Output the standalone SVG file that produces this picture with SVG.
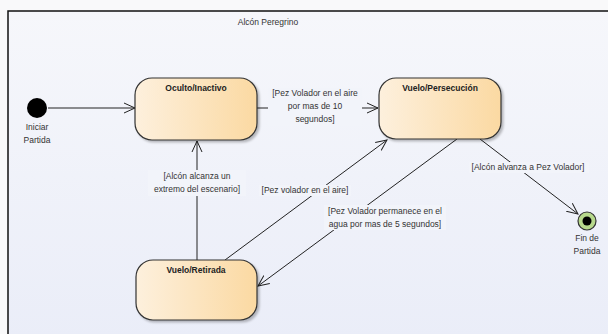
<svg xmlns="http://www.w3.org/2000/svg" width="608" height="334" viewBox="0 0 608 334">
<defs>
<linearGradient id="bg" x1="0" y1="0" x2="0" y2="1">
<stop offset="0" stop-color="#f6f7fb"/>
<stop offset="1" stop-color="#eaedf8"/>
</linearGradient>
<linearGradient id="st" x1="0" y1="0" x2="1" y2="0">
<stop offset="0" stop-color="#fdf0dd"/>
<stop offset="1" stop-color="#fbd9a2"/>
</linearGradient>
<filter id="sh" x="-10%" y="-10%" width="130%" height="140%">
<feDropShadow dx="2" dy="2" stdDeviation="1.2" flood-color="#000" flood-opacity="0.25"/>
</filter>
<marker id="arr" viewBox="0 0 12 12" refX="11" refY="6" markerWidth="12" markerHeight="12" markerUnits="userSpaceOnUse" orient="auto">
<path d="M0,1 L11,6 L0,11" fill="none" stroke="#222" stroke-width="1"/>
</marker>
<style>
text{font-family:"Liberation Sans",Arial,sans-serif;font-size:8.5px;fill:#333;text-anchor:middle}
.t{font-weight:bold;fill:#222}
.state{fill:url(#st);stroke:#333;stroke-width:1.2;filter:url(#sh)}
.e{stroke:#222;stroke-width:1;fill:none;marker-end:url(#arr)}
.lb{fill:#f2f4fa}
</style>
</defs>
<rect x="0" y="0" width="608" height="334" fill="#f9f9fa"/>
<rect x="8" y="11" width="610" height="330" fill="url(#bg)" stroke="#111" stroke-width="1.5"/>
<text x="268" y="25" class="title">Alcón Peregrino</text>
<g id="connectors">
<line class="e" x1="48" y1="108" x2="135" y2="108"/>
<line class="e" x1="257" y1="108" x2="378" y2="108"/>
<line class="e" x1="197" y1="260" x2="197" y2="141"/>
<line class="e" x1="225" y1="260" x2="387" y2="140"/>
<line class="e" x1="457" y1="139" x2="258" y2="286"/>
<line class="e" x1="480" y1="139" x2="578" y2="214"/>
<rect class="lb" x="268" y="88" width="94" height="38"/>
<text x="315" y="96">[Pez Volador en el aire</text>
<text x="315" y="109">por mas de 10</text>
<text x="315" y="122">segundos]</text>
<rect class="lb" x="148" y="170" width="98" height="26"/>
<text x="197" y="179">[Alcón alcanza un</text>
<text x="197" y="192">extremo del escenario]</text>
<rect class="lb" x="259" y="185" width="92" height="11"/>
<text x="305" y="193">[Pez volador en el aire]</text>
<rect class="lb" x="324" y="205" width="122" height="25"/>
<text x="385" y="214">[Pez Volador permanece en el</text>
<text x="385" y="227">agua por mas de 5 segundos]</text>
<rect class="lb" x="469" y="162" width="120" height="11"/>
<text x="528" y="170">[Alcón alvanza a Pez Volador]</text>
</g>
<g id="initial">
<circle cx="37" cy="108" r="10" fill="#000"/>
<text x="37" y="130">Iniciar</text>
<text x="37" y="143">Partida</text>
</g>
<g id="oculto">
<rect class="state" x="135" y="78" width="122" height="62" rx="17"/>
<text class="t" x="196" y="91">Oculto/Inactivo</text>
</g>
<g id="persecucion">
<rect class="state" x="379" y="78" width="122" height="61" rx="17"/>
<text class="t" x="440" y="91">Vuelo/Persecución</text>
</g>
<g id="retirada">
<rect class="state" x="136" y="260" width="121" height="60" rx="17"/>
<text class="t" x="196" y="273">Vuelo/Retirada</text>
</g>
<g id="final">
<circle cx="587" cy="221" r="9" fill="#b7d98c" stroke="#333" stroke-width="1.2"/>
<circle cx="587" cy="221" r="4.5" fill="#000"/>
<text x="587" y="241">Fin de</text>
<text x="587" y="254">Partida</text>
</g>
</svg>
